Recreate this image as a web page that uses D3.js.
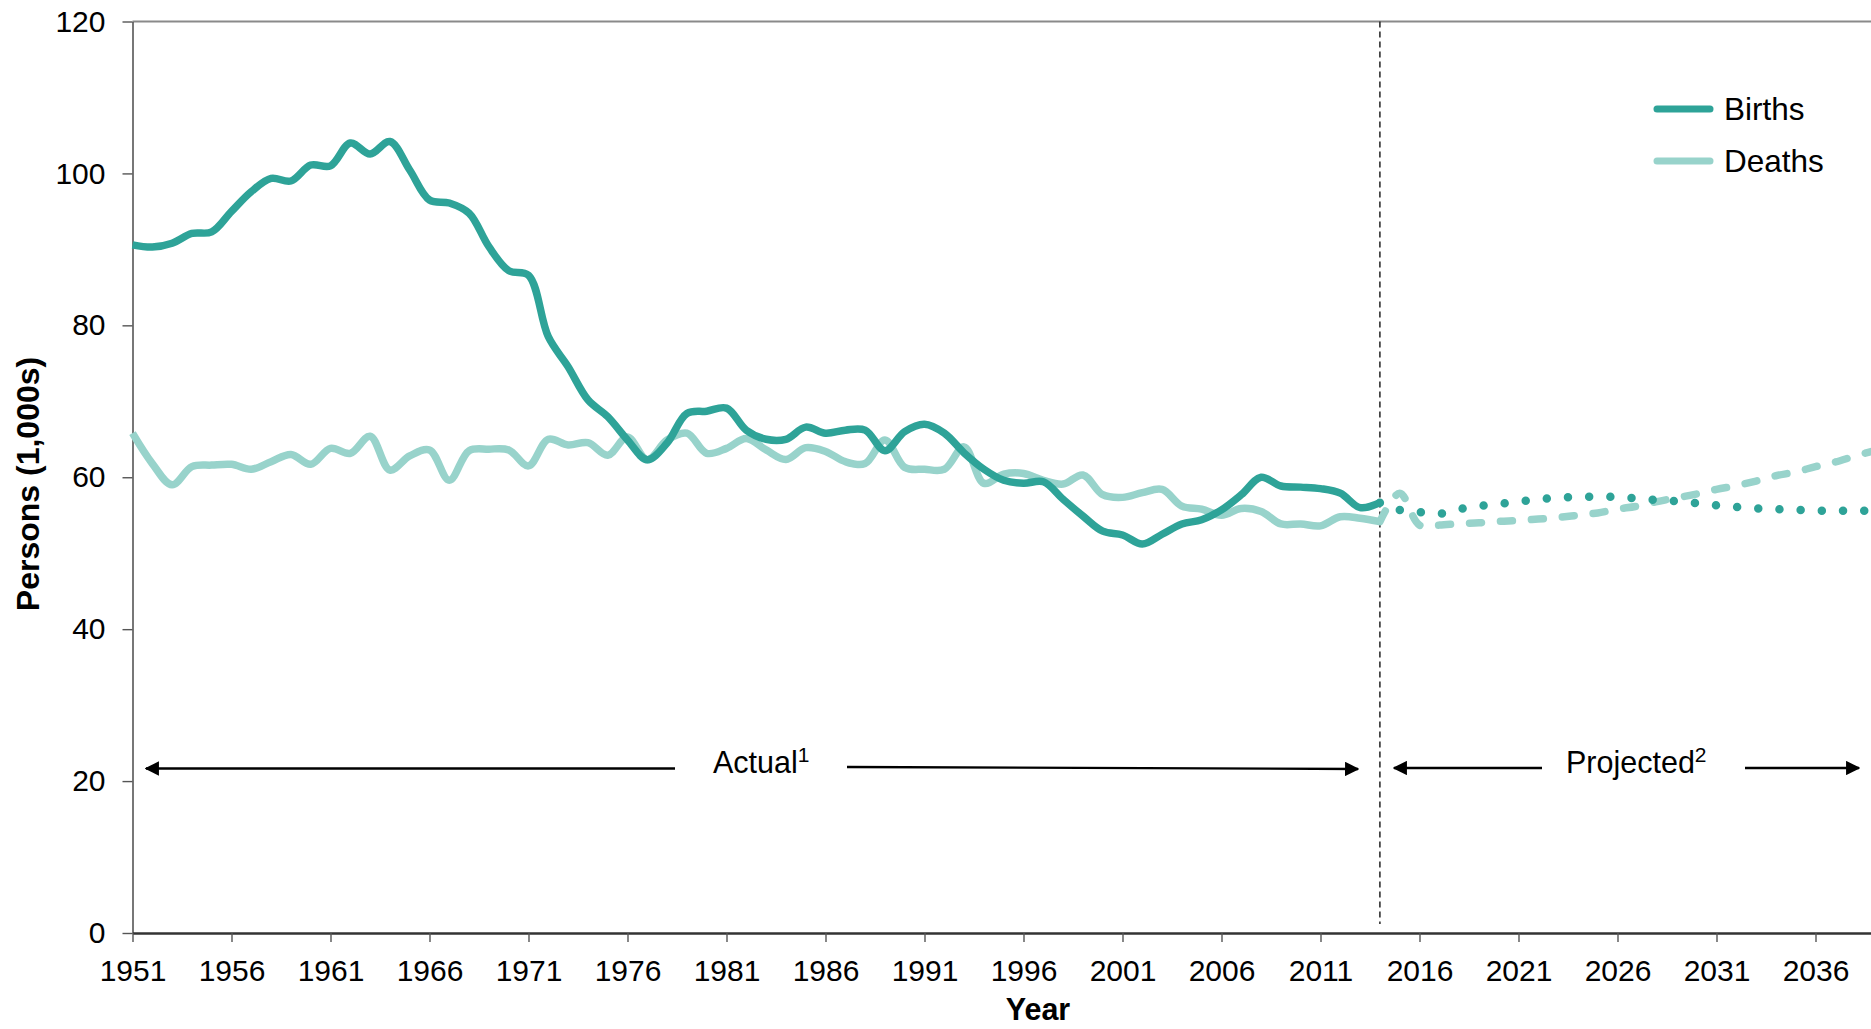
<!DOCTYPE html>
<html>
<head>
<meta charset="utf-8">
<script src="https://cdn.jsdelivr.net/npm/d3@7"></script>
<style>
  html, body { margin: 0; padding: 0; background: #fff; }
  svg { display: block; font-family: "Liberation Sans", Arial, sans-serif; }
</style>
</head>
<body>
<svg id="chart" width="1871" height="1029"></svg>
<script>
// ---- Data ----
const actualYears = d3.range(1951, 2015);
const birthsActual = [
  90.6, 90.3, 90.8, 92.1, 92.3, 95.0, 97.6, 99.35, 99.0, 101.1,
  101.0, 104.0, 102.55, 104.2, 100.45, 96.5, 96.1, 94.75, 90.35, 87.2,
  86.6, 78.5, 74.55, 70.2, 67.97, 64.9, 62.3, 64.5, 68.4, 68.7,
  69.1, 66.2, 65.0, 65.0, 66.6, 65.8, 66.2, 66.2, 63.5, 66.0,
  66.97, 65.8, 63.2, 61.05, 59.6, 59.2, 59.4, 57.1, 54.9, 52.9,
  52.4, 51.2, 52.5, 53.85, 54.4, 55.7, 57.7, 60.0, 58.85, 58.7,
  58.5, 57.9, 56.0, 56.65
];
const deathsActual = [
  65.8, 61.8, 59.0, 61.4, 61.6, 61.7, 61.05, 62.05, 63.0, 61.7,
  63.8, 63.15, 65.4, 60.95, 62.8, 63.6, 59.6, 63.5, 63.7, 63.6,
  61.5, 65.0, 64.25, 64.55, 62.9, 65.3, 62.3, 64.9, 65.8, 63.15,
  63.8, 65.1, 63.6, 62.35, 63.9, 63.4, 62.05, 61.8, 64.9, 61.3,
  61.05, 61.05, 64.0, 59.2, 60.4, 60.5, 59.6, 59.1, 60.3, 57.7,
  57.35, 57.97, 58.4, 56.2, 55.8, 55.0, 55.9, 55.5, 53.85, 53.85,
  53.6, 54.8, 54.6, 54.15
];
const projYears = d3.range(2014, 2041);
const birthsProjected = [
  56.65, 55.7, 55.4, 55.2, 55.8, 56.2, 56.5, 56.8, 57.1, 57.3,
  57.4, 57.45, 57.4, 57.2, 57.0, 56.85, 56.6, 56.3, 56.1, 55.9,
  55.8, 55.7, 55.6, 55.6, 55.6, 55.6, 55.6
];
const deathsProjected = [
  54.15, 57.9, 53.7, 53.7, 53.9, 54.0, 54.2, 54.3, 54.5, 54.7,
  55.0, 55.3, 55.8, 56.2, 56.8, 57.3, 57.8, 58.4, 58.9, 59.5,
  60.2, 60.7, 61.4, 62.0, 62.8, 63.5, 64.2
];
const xTickYears = d3.range(1951, 2040, 5);
const yTickValues = [0, 20, 40, 60, 80, 100, 120];
const seriesNames = ["Births", "Deaths"];
const seriesColors = ["#2ea398", "#98d3cb"];
const splitYear = 2014;

// ---- Layout ----
const svg = d3.select("#chart");
const W = 1871, H = 1029;
const x0 = 132.5, yTop = 21.5, yBot = 933;
const pxPerYear = 19.8;
const x = d3.scaleLinear().domain([1951, 2040]).range([x0, x0 + 89 * pxPerYear]);
const y = d3.scaleLinear().domain([0, 120]).range([yBot, yTop]);

svg.append("rect").attr("width", W).attr("height", H).attr("fill", "#fff");

// top border
svg.append("line").attr("x1", x0).attr("x2", W).attr("y1", yTop).attr("y2", yTop)
  .attr("stroke", "#8a8a8a").attr("stroke-width", 2);

// Y axis
const yAxis = svg.append("g").attr("transform", `translate(${x0},0)`)
  .call(d3.axisLeft(y).tickValues(yTickValues).tickSize(10).tickPadding(17).tickSizeOuter(0));
yAxis.select(".domain").attr("stroke", "#555").attr("stroke-width", 1.6);
yAxis.selectAll(".tick line").attr("stroke", "#555").attr("stroke-width", 1.4);
yAxis.selectAll("text").attr("font-size", 30).attr("fill", "#000")
  .attr("font-family", "Liberation Sans, Arial, sans-serif");

// X axis
const xAxis = svg.append("g").attr("transform", `translate(0,${yBot})`)
  .call(d3.axisBottom(x).tickValues(xTickYears).tickFormat(d3.format("d"))
    .tickSize(9).tickPadding(18).tickSizeOuter(0));
xAxis.select(".domain").attr("stroke", "#333").attr("stroke-width", 2.6);
xAxis.selectAll(".tick line").attr("stroke", "#555").attr("stroke-width", 1.4);
xAxis.selectAll("text").attr("font-size", 30).attr("fill", "#000")
  .attr("font-family", "Liberation Sans, Arial, sans-serif");

// vertical dashed divider
svg.append("line").attr("x1", x(splitYear)).attr("x2", x(splitYear))
  .attr("y1", yTop).attr("y2", yBot - 9)
  .attr("stroke", "#222").attr("stroke-width", 1.5).attr("stroke-dasharray", "6,4");

// axis titles
svg.append("text").attr("x", 1038).attr("y", 1020).attr("text-anchor", "middle")
  .attr("font-size", 30.5).attr("font-weight", "bold").text("Year");
svg.append("text").attr("transform", "translate(39,484) rotate(-90)")
  .attr("text-anchor", "middle").attr("font-size", 32).attr("font-weight", "bold")
  .text("Persons (1,000s)");

// lines
const line = d3.line().x(d => x(d[0])).y(d => y(d[1])).curve(d3.curveCatmullRom.alpha(0.5));
const bA = actualYears.map((yr, i) => [yr, birthsActual[i]]);
const dA = actualYears.map((yr, i) => [yr, deathsActual[i]]);
const bP = projYears.map((yr, i) => [yr, birthsProjected[i]]);
const dP = projYears.map((yr, i) => [yr, deathsProjected[i]]);

const plot = svg.append("g");
plot.append("path").datum(dA).attr("d", line).attr("fill", "none")
  .attr("stroke", seriesColors[1]).attr("stroke-width", 7.5).attr("stroke-linejoin", "round");
plot.append("path").datum(bA).attr("d", line).attr("fill", "none")
  .attr("stroke", seriesColors[0]).attr("stroke-width", 7.5).attr("stroke-linejoin", "round");
plot.append("path").datum(dP).attr("d", line).attr("fill", "none")
  .attr("stroke", seriesColors[1]).attr("stroke-width", 7.5).attr("stroke-linecap", "round")
  .attr("stroke-dasharray", "12,19");
plot.append("path").datum(bP).attr("d", line).attr("fill", "none")
  .attr("stroke", seriesColors[0]).attr("stroke-width", 8.5).attr("stroke-linecap", "round")
  .attr("stroke-dasharray", "0,21.2");

// legend
const legend = svg.append("g");
seriesNames.forEach((name, i) => {
  const ly = 109 + i * 52;
  legend.append("line").attr("x1", 1657).attr("x2", 1710).attr("y1", ly).attr("y2", ly)
    .attr("stroke", seriesColors[i]).attr("stroke-width", 7).attr("stroke-linecap", "round");
  legend.append("text").attr("x", 1724).attr("y", ly).attr("dy", "0.36em")
    .attr("font-size", 31.5).attr("fill", "#000").text(name);
});

// annotation arrows
const defs = svg.append("defs");
defs.append("marker").attr("id", "arrow").attr("viewBox", "0 0 10 10")
  .attr("refX", 9).attr("refY", 5).attr("markerWidth", 6).attr("markerHeight", 6)
  .attr("markerUnits", "strokeWidth").attr("orient", "auto-start-reverse")
  .append("path").attr("d", "M0,0 L10,5 L0,10 z").attr("fill", "#000");

function arrow(xa, ya, xb, yb) {
  svg.append("line").attr("x1", xa).attr("y1", ya).attr("x2", xb).attr("y2", yb)
    .attr("stroke", "#000").attr("stroke-width", 2.4).attr("marker-end", "url(#arrow)");
}
arrow(675, 768.5, 146, 768.5);
arrow(847, 767, 1358, 769);
arrow(1542, 768, 1394, 768);
arrow(1745, 768, 1859, 768);

function label(xp, main, sup) {
  const t = svg.append("text").attr("x", xp).attr("y", 773).attr("font-size", 30.5).attr("fill", "#000");
  t.append("tspan").text(main);
  t.append("tspan").attr("font-size", 21).attr("dy", -11).text(sup);
}
label(713, "Actual", "1");
label(1566, "Projected", "2");
</script>
</body>
</html>
